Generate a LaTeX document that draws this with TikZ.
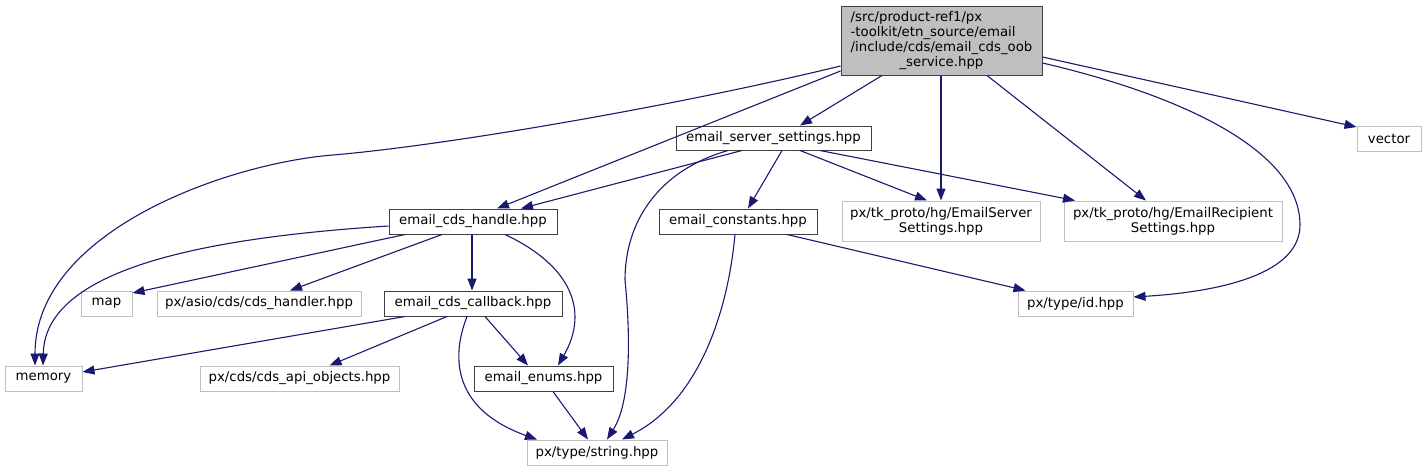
\documentclass[tikz,border=0pt]{standalone}
\usepackage{fontspec}
\setmainfont{DejaVu Sans}
\usepackage{xcolor}
\usepackage{tikz}
\usetikzlibrary{arrows.meta}
\definecolor{Edge}{HTML}{191970}
\definecolor{Frame}{HTML}{404040}
\definecolor{Ghost}{HTML}{BFBFBF}
\definecolor{RootFill}{HTML}{BFBFBF}
\tikzset{
  box/.style={draw=Frame,fill=white,line width=1pt,minimum height=25pt,inner sep=0pt,align=center},
  ext/.style={draw=Ghost,fill=white,line width=1pt,minimum height=25pt,inner sep=0pt,align=center},
  root/.style={draw=Frame,fill=RootFill,line width=1pt,inner sep=0pt,align=center},
  inc/.style={-{Triangle[length=12pt,width=9pt]},draw=Edge,line width=1.1pt}
}

\begin{document}
\begin{tikzpicture}[x=1pt,y=-1pt,font=\fontsize{13.3}{15}\selectfont]
  \useasboundingbox (0,0) rectangle (1425,472);
  % files
  \node[root,minimum width=201pt,minimum height=69pt] (oob) at (941.5,40.5) {\begin{tabular}{@{}l@{}}/src/product-ref1/px\\-toolkit/etn\_source/email\\/include/cds/email\_cds\_oob\\\multicolumn{1}{@{}c@{}}{\_service.hpp}\end{tabular}};
  \node[box,minimum width=195pt,minimum height=24pt] (srv) at (773.5,138) {email\_server\_settings.hpp};
  \node[box,minimum width=168pt] (hdl) at (473,221.5) {email\_cds\_handle.hpp};
  \node[box,minimum width=158pt] (cst) at (738,221.5) {email\_constants.hpp};
  \node[ext,minimum width=198pt,minimum height=40pt] (esrv) at (941,221) {px/tk\_proto/hg/EmailServer\\Settings.hpp};
  \node[ext,minimum width=218pt,minimum height=40pt] (ercp) at (1173,221) {px/tk\_proto/hg/EmailRecipient\\Settings.hpp};
  \node[ext,minimum width=64pt] (vec) at (1389,138.5) {vector};
  \node[ext,minimum width=51pt] (map) at (106.5,303.5) {map};
  \node[ext,minimum width=204pt] (asio) at (259,303.5) {px/asio/cds/cds\_handler.hpp};
  \node[box,minimum width=178pt] (cbk) at (473,303.5) {email\_cds\_callback.hpp};
  \node[ext,minimum width=115pt] (tid) at (1075.5,303.5) {px/type/id.hpp};
  \node[ext,minimum width=77pt] (mem) at (43.5,378.5) {memory};
  \node[ext,minimum width=199pt] (api) at (299.5,378.5) {px/cds/cds\_api\_objects.hpp};
  \node[box,minimum width=139pt] (enm) at (543.5,378.5) {email\_enums.hpp};
  \node[ext,minimum width=140pt] (str) at (597,452.5) {px/type/string.hpp};
  % includes of the oob service header
  \draw[inc] ([yshift=-25.5pt]oob.west) .. controls (680,105) and (450,145) .. (333,155)
    .. controls (230,163) and (35,230) .. ([xshift=-8.5pt]mem.north);
  \draw[inc] ([yshift=-30.5pt]oob.west) -- ([xshift=24pt]hdl.north);
  \draw[inc] ([xshift=-59.5pt]oob.south) -- ([xshift=26.5pt]srv.north);
  \draw[inc] ([xshift=-0.5pt]oob.south) -- (esrv.north);
  \draw[inc] ([xshift=45.5pt]oob.south) -- ([xshift=-27pt]ercp.north);
  \draw[inc] ([yshift=-22.5pt]oob.east) .. controls (1180,95) and (1300,150) .. (1300,225)
    .. controls (1300,280) and (1200,293) .. ([yshift=6.5pt]tid.east);
  \draw[inc] ([yshift=-16.5pt]oob.east) -- ([yshift=11.5pt]vec.west);
  % email_server_settings.hpp
  \draw[inc] ([xshift=-31.5pt]srv.south) -- ([xshift=48pt]hdl.north);
  \draw[inc] ([xshift=-45.5pt]srv.south) .. controls (660,170) and (625,220) .. (625,280)
    .. controls (630,330) and (632,400) .. ([xshift=10pt]str.north);
  \draw[inc] ([xshift=8.5pt]srv.south) -- ([xshift=10pt]cst.north);
  \draw[inc] ([xshift=26.5pt]srv.south) -- ([xshift=-14pt]esrv.north);
  \draw[inc] ([xshift=46.5pt]srv.south) -- ([xshift=-98pt]ercp.north);
  % email_cds_handle.hpp
  \draw[inc] ([yshift=-4.5pt]hdl.west) .. controls (200,238) and (45,270) .. ([xshift=-0.5pt]mem.north);
  \draw[inc] ([xshift=-68pt]hdl.south) -- ([yshift=10.5pt]map.east);
  \draw[inc] ([xshift=-31pt]hdl.south) -- ([xshift=31pt]asio.north);
  \draw[inc] ([xshift=-1pt]hdl.south) -- ([xshift=-1pt]cbk.north);
  \draw[inc] ([xshift=32pt]hdl.south) .. controls (570,265) and (590,310) .. ([xshift=14.5pt]enm.north);
  % email_constants.hpp
  \draw[inc] ([xshift=-3pt]cst.south) .. controls (728,310) and (700,400) .. ([xshift=25pt]str.north);
  \draw[inc] ([xshift=49pt]cst.south) -- ([xshift=-50pt]tid.north);
  % email_cds_callback.hpp
  \draw[inc] ([xshift=-68pt]cbk.south) -- ([yshift=6.5pt]mem.east);
  \draw[inc] ([xshift=-26pt]cbk.south) -- ([xshift=30pt]api.north);
  \draw[inc] ([xshift=12pt]cbk.south) -- ([xshift=-15.5pt]enm.north);
  \draw[inc] ([xshift=-6pt]cbk.south) .. controls (450,360) and (455,410) .. ([xshift=-60pt]str.north);
  % email_enums.hpp
  \draw[inc] ([xshift=9.5pt]enm.south) -- ([xshift=-9pt]str.north);
\end{tikzpicture}
\end{document}
